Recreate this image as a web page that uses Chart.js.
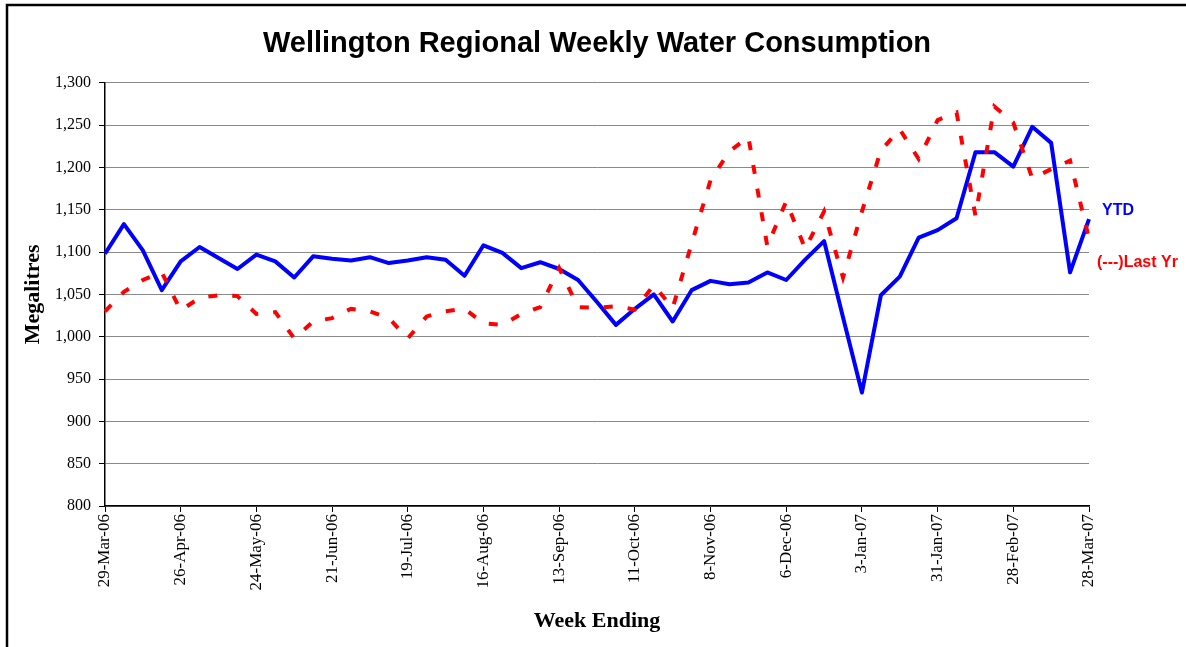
<!DOCTYPE html>
<html>
<head>
<meta charset="utf-8">
<script src="https://cdn.jsdelivr.net/npm/chart.js@4.4.1/dist/chart.umd.min.js"></script>
<style>
  html, body { margin: 0; padding: 0; background: #fff; overflow: hidden; }
  #wrap { width: 1186px; height: 647px; position: relative; }
</style>
</head>
<body>
<div id="wrap"><canvas id="chart"></canvas></div>
<script>
// weekly water consumption, week ending dates
const weeks = [
  '29-Mar-06', '5-Apr-06', '12-Apr-06', '19-Apr-06', '26-Apr-06', '3-May-06', '10-May-06', '17-May-06',
  '24-May-06', '31-May-06', '7-Jun-06', '14-Jun-06', '21-Jun-06', '28-Jun-06', '5-Jul-06', '12-Jul-06',
  '19-Jul-06', '26-Jul-06', '2-Aug-06', '9-Aug-06', '16-Aug-06', '23-Aug-06', '30-Aug-06', '6-Sep-06',
  '13-Sep-06', '20-Sep-06', '27-Sep-06', '4-Oct-06', '11-Oct-06', '18-Oct-06', '25-Oct-06', '1-Nov-06',
  '8-Nov-06', '15-Nov-06', '22-Nov-06', '29-Nov-06', '6-Dec-06', '13-Dec-06', '20-Dec-06', '27-Dec-06',
  '3-Jan-07', '10-Jan-07', '17-Jan-07', '24-Jan-07', '31-Jan-07', '7-Feb-07', '14-Feb-07', '21-Feb-07',
  '28-Feb-07', '7-Mar-07', '14-Mar-07', '21-Mar-07', '28-Mar-07'
];

// Megalitres, this year (YTD)
const ytd = [
  1098, 1133, 1102, 1055, 1089, 1106, 1093, 1080, 1097, 1089, 1070, 1095, 1092, 1090, 1094, 1087,
  1090, 1094, 1091, 1072, 1108, 1099, 1081, 1088, 1080, 1067, 1041, 1014, 1033, 1050, 1018, 1055,
  1066, 1062, 1064, 1076, 1067, 1091, 1113, 1023, 934, 1049, 1071, 1117, 1126, 1140, 1218, 1218,
  1201, 1248, 1229, 1076, 1139
];

// Megalitres, same week last year
const lastYr = [
  1030, 1053, 1067, 1076, 1031, 1046, 1049, 1048, 1027, 1029, 998, 1018, 1022, 1033, 1030, 1022,
  998, 1024, 1030, 1033, 1016, 1014, 1027, 1035, 1081, 1035, 1034, 1036, 1032, 1061, 1034, 1110,
  1185, 1219, 1236, 1107, 1160, 1104, 1148, 1070, 1148, 1220, 1245, 1210, 1256, 1265, 1143, 1272,
  1253, 1187, 1198, 1208, 1116
];

const yTicks = { min: 800, max: 1300, step: 50 };

const SERIF = "'Liberation Serif', 'Times New Roman', serif";
const SANS = "'Liberation Sans', Arial, sans-serif";

// white page, black frame on top and left like the original sheet
const framePlugin = {
  id: 'frame',
  beforeDraw(chart) {
    const c = chart.ctx;
    c.save();
    c.fillStyle = '#fff';
    c.fillRect(0, 0, chart.width, chart.height);
    c.restore();
  },
  afterDraw(chart) {
    const c = chart.ctx;
    c.save();
    c.strokeStyle = '#000';
    c.lineWidth = 2.5;
    c.beginPath();
    c.moveTo(chart.width, 5);
    c.lineTo(7, 5);
    c.lineTo(7, chart.height);
    c.stroke();
    c.restore();
  }
};

// series names written next to the line ends
const endLabels = {
  id: 'endLabels',
  afterDatasetsDraw(chart) {
    const c = chart.ctx;
    const a = chart.chartArea;
    c.save();
    c.font = 'bold 16px ' + SANS;
    c.textBaseline = 'middle';
    c.textAlign = 'left';
    c.fillStyle = '#0000ff';
    c.fillText('YTD', a.right + 13, a.top + 128);
    c.fillStyle = '#ff0000';
    c.fillText('(---)Last Yr', a.right + 8, a.top + 180);
    c.restore();
  }
};

new Chart(document.getElementById('chart'), {
  type: 'line',
  data: {
    labels: weeks,
    datasets: [
      {
        label: 'YTD',
        data: ytd,
        borderColor: '#0000ff',
        backgroundColor: '#0000ff',
        borderWidth: 4,
        borderJoinStyle: 'round',
        pointRadius: 0,
        tension: 0,
        order: 1
      },
      {
        label: '(---)Last Yr',
        data: lastYr,
        borderColor: '#ff0000',
        backgroundColor: '#ff0000',
        borderWidth: 4,
        borderDash: [9, 15],
        borderCapStyle: 'butt',
        pointRadius: 0,
        tension: 0,
        order: 0
      }
    ]
  },
  options: {
    responsive: true,
    maintainAspectRatio: false,
    animation: false,
    layout: { padding: { left: 8, right: 97, top: 0, bottom: 0 } },
    plugins: {
      legend: { display: false },
      tooltip: { enabled: false },
      title: {
        display: true,
        fullSize: false,
        text: 'Wellington Regional Weekly Water Consumption',
        color: '#000',
        font: { family: SANS, size: 29, weight: 'bold' },
        padding: { top: 27, bottom: 21 }
      }
    },
    scales: {
      x: {
        offset: false,
        afterFit: (scale) => { scale.height = 141; },
        border: { color: '#000', width: 1.5 },
        grid: {
          drawOnChartArea: false,
          drawTicks: true,
          tickLength: 6,
          tickColor: (ctx) => (ctx.index % 4 === 0 ? '#000' : 'rgba(0,0,0,0)')
        },
        ticks: {
          autoSkip: false,
          minRotation: 90,
          maxRotation: 90,
          padding: 2,
          color: '#000',
          font: { family: SERIF, size: 17 },
          callback: function (value, index) {
            return index % 4 === 0 ? this.getLabelForValue(value) : '';
          }
        },
        title: {
          display: true,
          text: 'Week Ending',
          color: '#000',
          font: { family: SERIF, size: 22, weight: 'bold' },
          padding: { top: 0, bottom: 12 }
        }
      },
      y: {
        min: yTicks.min,
        max: yTicks.max,
        afterFit: (scale) => { scale.width = 97; },
        border: { color: '#000', width: 1.5 },
        grid: {
          color: '#8a8a8a',
          lineWidth: 1,
          tickLength: 6,
          tickColor: '#000'
        },
        ticks: {
          stepSize: yTicks.step,
          padding: 8,
          color: '#000',
          font: { family: SERIF, size: 16 },
          callback: (v) => v.toLocaleString('en-US')
        },
        title: {
          display: true,
          text: 'Megalitres',
          color: '#000',
          font: { family: SERIF, size: 22, weight: 'bold' },
          padding: { top: 12, bottom: 0 }
        }
      }
    }
  },
  plugins: [framePlugin, endLabels]
});
</script>
</body>
</html>
